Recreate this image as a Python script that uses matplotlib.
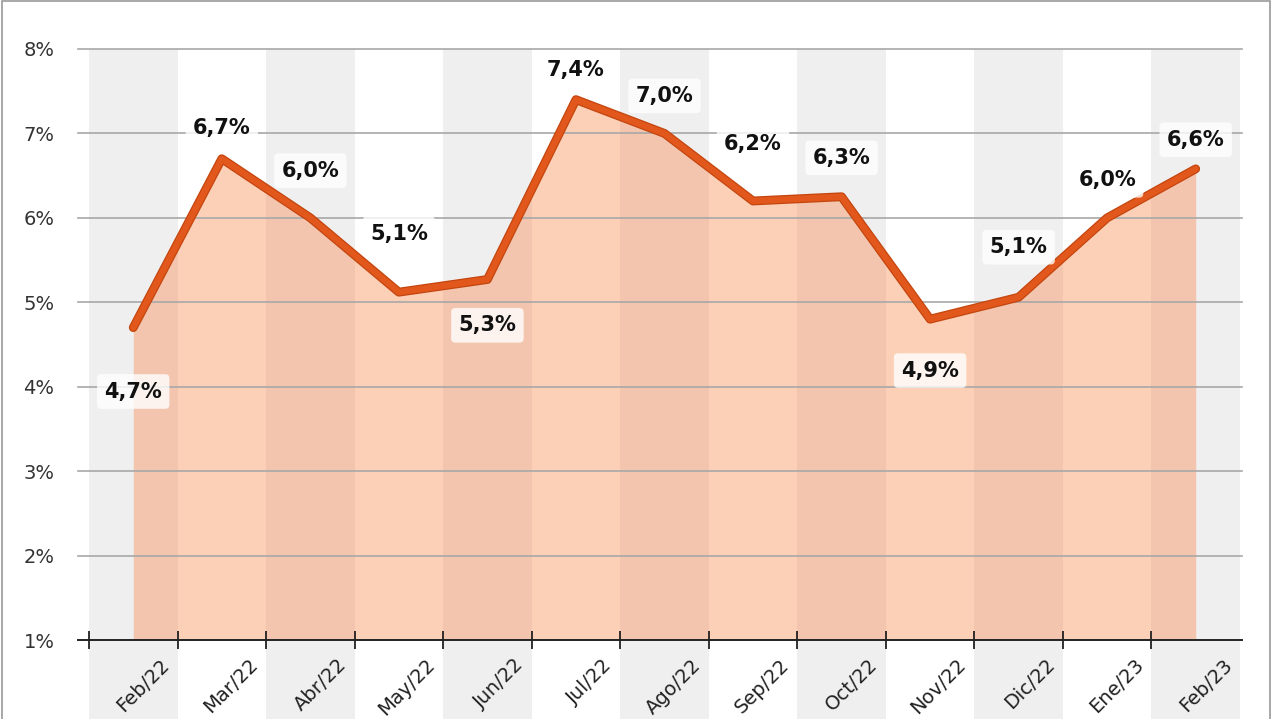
import matplotlib
matplotlib.use("Agg")
import matplotlib.pyplot as plt
import matplotlib.patheffects as pe
from matplotlib.patches import Rectangle

months = ["Feb/22", "Mar/22", "Abr/22", "May/22", "Jun/22", "Jul/22", "Ago/22",
          "Sep/22", "Oct/22", "Nov/22", "Dic/22", "Ene/23", "Feb/23"]
values = [4.7, 6.7, 6.0, 5.12, 5.27, 7.4, 7.0, 6.2, 6.25, 4.8, 5.06, 6.0, 6.58]
labels = ["4,7%", "6,7%", "6,0%", "5,1%", "5,3%", "7,4%", "7,0%",
          "6,2%", "6,3%", "4,9%", "5,1%", "6,0%", "6,6%"]
yticks = [1, 2, 3, 4, 5, 6, 7, 8]

# vertical offset of each value label, in points (negative = below the line)
label_dy = [-46, 22, 34, 42, -33, 21, 27, 41, 28, -37, 36, 27, 21]

fig = plt.figure(figsize=(12.8, 7.19), dpi=100)
ax = fig.add_axes([78 / 1280, 79 / 719, 1164 / 1280, 591 / 719])
ax.set_xlim(-0.624, 12.523)
ax.set_ylim(1, 8)

x = list(range(len(months)))

# alternating column shading, running down through the tick labels
for i in x:
    if i % 2 == 0:
        ax.axvspan(i - 0.5, i + 0.5, ymin=-79 / 591, ymax=1, color="#efefef",
                   zorder=0, clip_on=False, lw=0)

ax.fill_between(x, values, 1, color="#f98d55", alpha=0.42, lw=0, zorder=1)

for t in yticks[1:]:
    ax.axhline(t, color="#a8a8a8", lw=1.2, zorder=2, clip_on=False)

ax.plot(x, values, color="#e2571c", lw=4.6, solid_capstyle="round",
        solid_joinstyle="round", zorder=4,
        path_effects=[pe.Stroke(linewidth=6.4, foreground="#c4460f"), pe.Normal()])

for xi, v, lab, dy in zip(x, values, labels, label_dy):
    ax.annotate(lab, xy=(xi, v), xytext=(0, dy), textcoords="offset points",
                ha="center", va="center", fontsize=15, fontweight="bold",
                color="#111111", zorder=5,
                bbox=dict(boxstyle="round,pad=0.35,rounding_size=0.2",
                          fc="white", ec="none", alpha=0.8))

ax.set_yticks(yticks)
ax.set_yticklabels([f"{t}%" for t in yticks], fontsize=14, color="#333333")
ax.tick_params(axis="y", length=0, pad=17)

ax.set_xticks([i - 0.5 for i in x])
ax.set_xticklabels([])
ax.tick_params(axis="x", direction="inout", length=13, width=1.3, color="#222222")

for i, m in zip(x, months):
    ax.annotate(m, xy=(i + 0.3, 1), xytext=(0, -11), textcoords="offset points",
                rotation=45, rotation_mode="anchor", ha="right", va="top",
                fontsize=14, color="#222222", annotation_clip=False)

for s in ["top", "right", "left"]:
    ax.spines[s].set_visible(False)
ax.spines["bottom"].set_color("#222222")
ax.spines["bottom"].set_linewidth(1.4)
ax.spines["bottom"].set_zorder(6)

fig.patches.append(Rectangle((2 / 1280, -0.01), 1268 / 1280, 1.008,
                             transform=fig.transFigure, fill=False,
                             ec="#9a9a9a", lw=1.2))

fig.savefig("out.png", dpi=100)
